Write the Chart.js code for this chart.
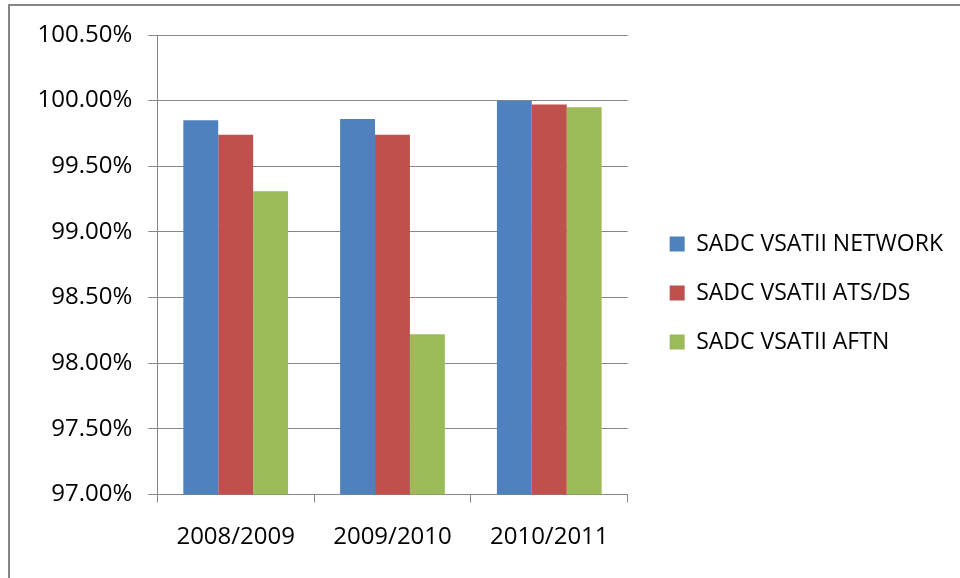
<!DOCTYPE html>
<html>
<head>
<meta charset="utf-8">
<script src="https://cdn.jsdelivr.net/npm/chart.js@4"></script>
<style>
  html, body { margin: 0; padding: 0; background: #fff; }
  #wrap { position: relative; width: 960px; height: 578px; }
  #frame {
    position: absolute; left: 8px; top: 4px; right: 0; bottom: 0;
    border-top: 2px solid #878787; border-left: 2px solid #878787;
    pointer-events: none;
  }
  canvas { position: absolute; left: 0; top: 0; }
</style>
</head>
<body>
<div id="wrap">
  <canvas id="chart" width="960" height="578"></canvas>
  <div id="frame"></div>
</div>
<script>
// chart data
const periods = ['2008/2009', '2009/2010', '2010/2011'];
const networkData = [99.85, 99.86, 100.00];
const atsData = [99.74, 99.74, 99.97];
const aftnData = [99.31, 98.22, 99.95];
const seriesNames = ['SADC VSATII NETWORK', 'SADC VSATII ATS/DS', 'SADC VSATII AFTN'];

const gridGray = '#878787';
const font = "'Open Sans', sans-serif";

new Chart(document.getElementById('chart'), {
  type: 'bar',
  data: {
    labels: periods,
    datasets: [
      { label: seriesNames[0], data: networkData, backgroundColor: '#4F81BD' },
      { label: seriesNames[1], data: atsData, backgroundColor: '#C0504D' },
      { label: seriesNames[2], data: aftnData, backgroundColor: '#9BBB59' }
    ]
  },
  options: {
    responsive: false,
    animation: false,
    devicePixelRatio: 1,
    categoryPercentage: 0.668,
    barPercentage: 1.0,
    layout: { padding: { top: 35, left: 10, bottom: 27, right: 7 } },
    plugins: {
      tooltip: { enabled: false },
      legend: {
        position: 'right',
        maxWidth: 330,
        labels: {
          boxWidth: 15,
          boxHeight: 15,
          padding: 26,
          color: '#000',
          font: { family: font, size: 23 }
        }
      }
    },
    scales: {
      x: {
        afterFit: (s) => { s.height = 56.5; },
        grid: { offset: true, drawOnChartArea: false, tickLength: 8, color: gridGray },
        border: { color: gridGray },
        ticks: { color: '#000', padding: 20, font: { family: font, size: 24 } }
      },
      y: {
        min: 97,
        max: 100.5,
        beginAtZero: false,
        afterFit: (s) => { s.width = 147.3; },
        grid: { color: gridGray, tickLength: 9 },
        border: { color: gridGray },
        ticks: {
          stepSize: 0.5,
          padding: 16,
          color: '#000',
          font: { family: font, size: 24 },
          callback: (v) => v.toFixed(2) + '%'
        }
      },
      // empty spacer so the legend sits clear of the plot
      gap: {
        position: 'right',
        display: true,
        grid: { display: false },
        border: { display: false },
        ticks: { display: false },
        afterFit: (s) => { s.width = 16; }
      }
    }
  }
});
</script>
</body>
</html>
